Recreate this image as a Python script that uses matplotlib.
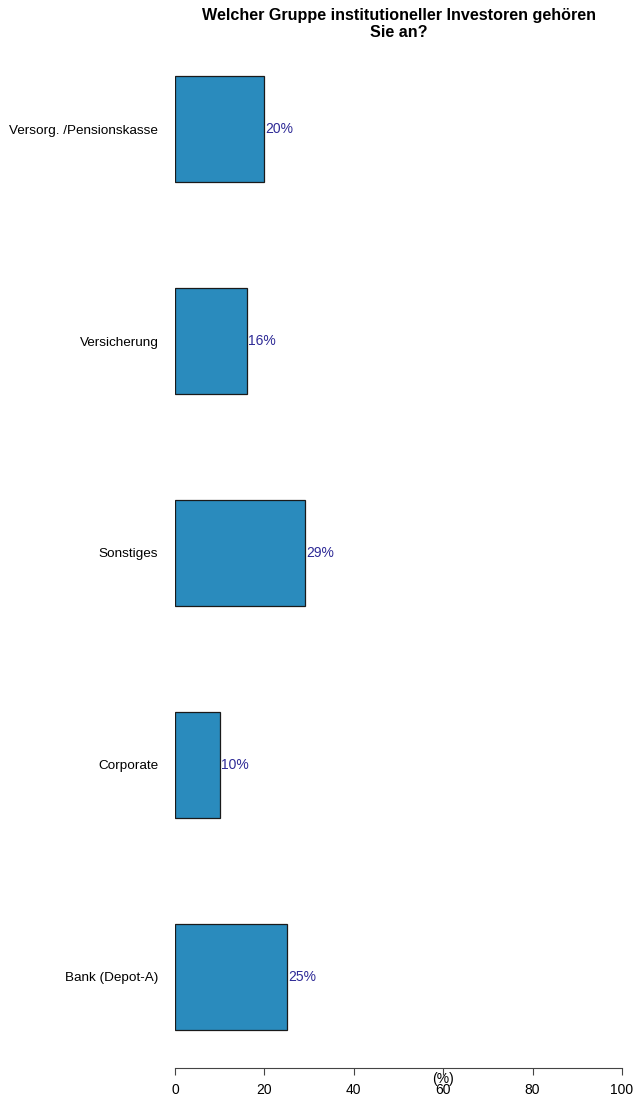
import matplotlib
matplotlib.use('Agg')
import matplotlib.pyplot as plt

plt.rcParams['font.family'] = ['Liberation Sans', 'DejaVu Sans']

# Kategorien von unten nach oben
categories = ['Bank (Depot-A)', 'Corporate', 'Sonstiges', 'Versicherung', 'Versorg. /Pensionskasse']
values = [25, 10, 29, 16, 20]
xticks = [0, 20, 40, 60, 80, 100]

W, H = 634, 1100
fig = plt.figure(figsize=(W / 100, H / 100), dpi=100)
left, right, bottom, top = 175, 622, 1068, 38
ax = fig.add_axes([left / W, 1 - bottom / H, (right - left) / W, (bottom - top) / H])

pos = list(range(len(categories)))
ax.barh(pos, values, height=0.5, color='#2a8bbd', edgecolor='#1a1a1a', linewidth=0.9)
for p, v in zip(pos, values):
    ax.text(v + 0.3, p, f'{v}%', color='#2e2a96', fontsize=10, va='center', ha='left')

ax.set_xlim(0, 100)
ax.set_ylim(-0.43, 4.43)
ax.set_xticks(xticks)
ax.set_xticklabels([str(t) for t in xticks], fontsize=10)
ax.set_yticks(pos)
ax.set_yticklabels(categories, fontsize=9.7)
ax.tick_params(axis='y', length=0, pad=12)
ax.tick_params(axis='x', length=5, width=0.8, color='#444444', pad=6)
for s in ['top', 'right', 'left']:
    ax.spines[s].set_visible(False)
ax.spines['bottom'].set_color('#444444')
ax.spines['bottom'].set_linewidth(0.8)

ax.text(60, -0.48, '(%)', fontsize=10, ha='center', va='center')

fig.text(399 / W, 1 - 24 / H, 'Welcher Gruppe institutioneller Investoren gehören\nSie an?',
         ha='center', va='center', fontsize=11.6, fontweight='bold', linespacing=1.15)

fig.savefig('out.png', dpi=100)
